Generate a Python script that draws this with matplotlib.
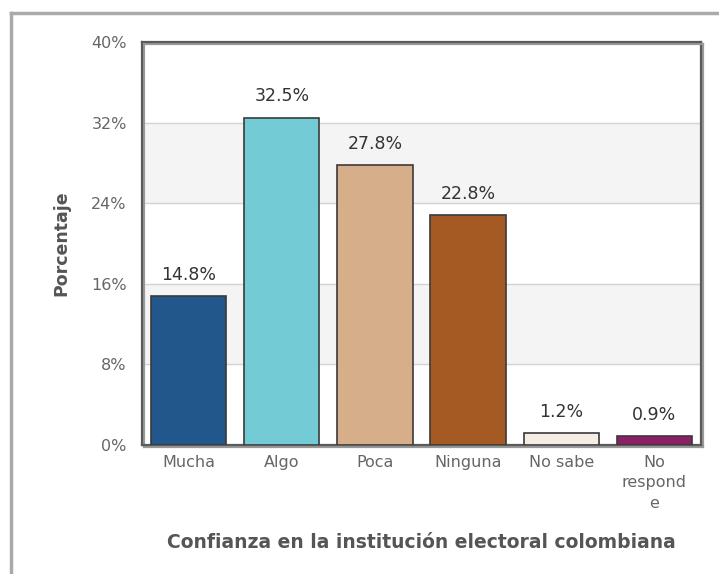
import matplotlib.pyplot as plt
from matplotlib.lines import Line2D
import matplotlib.patheffects as pe

plt.rcParams['font.family'] = ['DejaVu Sans']

# data
categorias = ["Mucha", "Algo", "Poca", "Ninguna", "No sabe", "No\nrespond\ne"]
porcentajes = [14.8, 32.5, 27.8, 22.8, 1.2, 0.9]
etiquetas = ["14.8%", "32.5%", "27.8%", "22.8%", "1.2%", "0.9%"]
colores = ["#21578a", "#73cbd6", "#d7ae8a", "#a65a23", "#f5ede3", "#8b2065"]
yticks = [0, 8, 16, 24, 32, 40]

fig = plt.figure(figsize=(7.19, 5.74), dpi=100)
ax = fig.add_axes([0.1975, 0.2247, 0.7775, 0.7021])

# alternating bands
for i in range(len(yticks) - 1):
    if i % 2 == 1:
        ax.axhspan(yticks[i], yticks[i + 1], color="#f4f4f4", zorder=0)
for y in yticks[1:-1]:
    ax.axhline(y, color="#d4d4d4", lw=1, zorder=1)

x = range(len(categorias))
ax.bar(x, porcentajes, width=0.81, color=colores, edgecolor="#3a3a3a", linewidth=1.2, zorder=3)
for xi, v, t in zip(x, porcentajes, etiquetas):
    ax.text(xi, v + 1.2, t, ha="center", va="bottom", fontsize=12.5, color="#333333")

ax.set_xlim(-0.5, len(categorias) - 0.5)
ax.set_ylim(0, 40)
ax.set_yticks(yticks)
ax.set_yticklabels([str(t) + "%" for t in yticks])
ax.set_xticks(list(x))
ax.set_xticklabels(categorias, linespacing=1.45, va="top")
ax.tick_params(axis="y", length=0, pad=11, labelsize=11.5, labelcolor="#666666")
ax.tick_params(axis="x", length=0, pad=7, labelsize=11.5, labelcolor="#666666")

for s in ax.spines.values():
    s.set_color("#5a5a5a")
    s.set_linewidth(1.6)
    s.set_path_effects([pe.SimpleLineShadow(offset=(1.5, -1.5), shadow_color="#999999", alpha=1), pe.Normal()])

ax.set_ylabel("Porcentaje", fontsize=12.5, fontweight="bold", color="#555555", labelpad=15)
ax.set_xlabel("Confianza en la institución electoral colombiana", fontsize=13.5,
              fontweight="bold", color="#555555", labelpad=16)

# outer frame
fig.add_artist(Line2D([11 / 719, 1.0], [1 - 13 / 574, 1 - 13 / 574], color="#aaaaaa", lw=2.5))
fig.add_artist(Line2D([11 / 719, 11 / 719], [0, 1 - 13 / 574], color="#aaaaaa", lw=2.5))

fig.savefig("out.png", dpi=100)
